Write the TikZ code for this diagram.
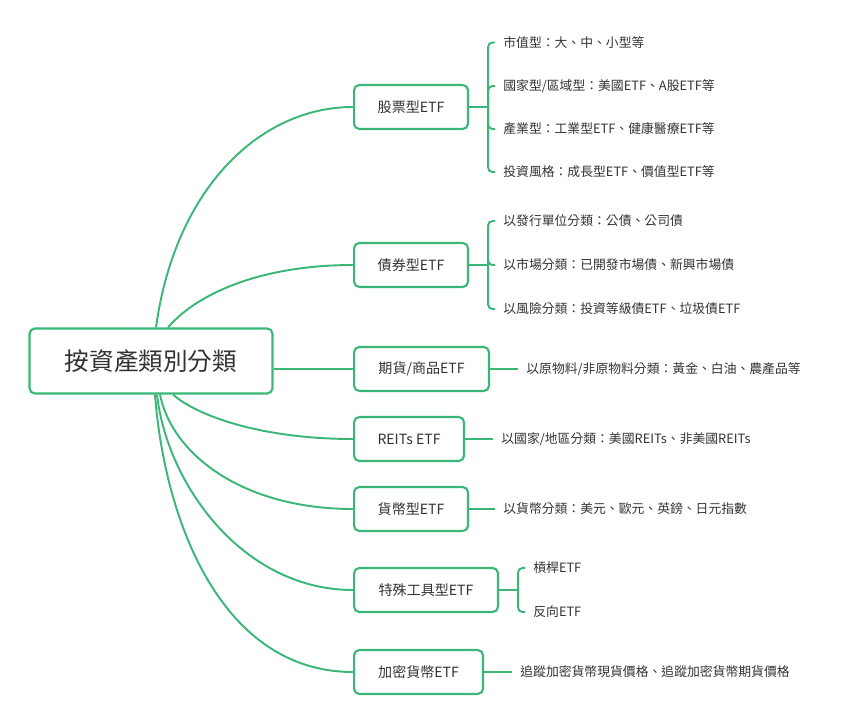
\documentclass[tikz,border=0pt]{standalone}
\usepackage{fontspec}
\setmainfont{Noto Sans CJK TC}
\usetikzlibrary{positioning}
\definecolor{mindGreen}{RGB}{58,183,118}
\definecolor{mindText}{RGB}{51,51,51}
\begin{document}
\begin{tikzpicture}
[x=0.02cm,y=-0.02cm,
  lineDecorate/.style={-,draw=mindGreen,line width=1.1pt},%
  forkDecorate/.style={lineDecorate,rounded corners=2.5pt},%
  rootDecorate/.style={shape=rectangle,draw=mindGreen,line width=1.2pt,rounded corners=3pt,
    fill=white,text=mindText,minimum width=4.86cm,minimum height=1.3cm,
    font=\fontsize{14}{16}\selectfont},%
  branchDecorate/.style={shape=rectangle,draw=mindGreen,line width=1.2pt,rounded corners=3pt,
    fill=white,text=mindText,anchor=west,minimum height=0.88cm,
    font=\fontsize{8}{10}\selectfont},%
  leafDecorate/.style={anchor=west,inner xsep=0.16cm,inner ysep=0pt,text=mindText,
    font=\fontsize{7.3}{9}\selectfont}]
\useasboundingbox (0,0) rectangle (843,724);
%% root
\node (root) at (151,361) [rootDecorate] {按資產類別分類};
%% branches
\foreach \nodename/\y/\w/\label in {
  stock/107/2.28/股票型ETF, bond/265/2.28/債券型ETF,
  futures/369/2.70/{期貨/商品ETF}, reits/439/2.20/REITs ETF,
  currency/509/2.28/貨幣型ETF, special/590/2.88/特殊工具型ETF,
  crypto/672/2.58/加密貨幣ETF}
{
  \node (\nodename) at (353,\y) [branchDecorate,minimum width=\w cm] {\label};
}
%% leaves
\foreach \nodename/\x/\y/\label in {
  stock1/495/42.5/市值型：大、中、小型等,
  stock2/495/86/{國家型/區域型：美國ETF、A股ETF等},
  stock3/495/129/產業型：工業型ETF、健康醫療ETF等,
  stock4/495/172/投資風格：成長型ETF、價值型ETF等,
  bond1/495/221/以發行單位分類：公債、公司債,
  bond2/495/265/以市場分類：已開發市場債、新興市場債,
  bond3/495/309/以風險分類：投資等級債ETF、垃圾債ETF,
  futures1/518/369/{以原物料/非原物料分類：黃金、白油、農產品等},
  reits1/493/439/{以國家/地區分類：美國REITs、非美國REITs},
  currency1/495/509/以貨幣分類：美元、歐元、英鎊、日元指數,
  special1/525/568/槓桿ETF, special2/525/612/反向ETF,
  crypto1/512/672/追蹤加密貨幣現貨價格、追蹤加密貨幣期貨價格}
{
  \node (\nodename) at (\x,\y) [leafDecorate] {\label};
}
%% root to branches
\foreach \nodename/\side/\s/\ax/\ay/\bx in {
  stock/north/5/19/-139/-93, bond/north/17/30/-35/-90,
  reits/south/22/25/22/-90, currency/south/9/12/60/-110,
  special/south/6/10/90/-110, crypto/south/4/10/130/-130}
{
  \draw[lineDecorate] ([xshift=\s*0.02cm]root.\side)
    .. controls +(\ax,\ay) and +(\bx,0) .. (\nodename.west);
}
\draw[lineDecorate] (futures.west -| root.east) -- (futures.west);
%% branches to leaves
\foreach \nodename/\children in {
  stock/{stock1,stock2,stock3,stock4}, bond/{bond1,bond2,bond3},
  special/{special1,special2}}
{
  \coordinate (\nodename fork) at ([xshift=0.38cm]\nodename.east);
  \draw[lineDecorate] (\nodename.east) -- (\nodename fork);
  \foreach \child in \children
    \draw[forkDecorate] (\nodename fork) |- (\child.west);
}
\foreach \nodename in {futures,reits,currency,crypto}
  \draw[lineDecorate] (\nodename.east) -- (\nodename1.west);
\end{tikzpicture}
\end{document}
